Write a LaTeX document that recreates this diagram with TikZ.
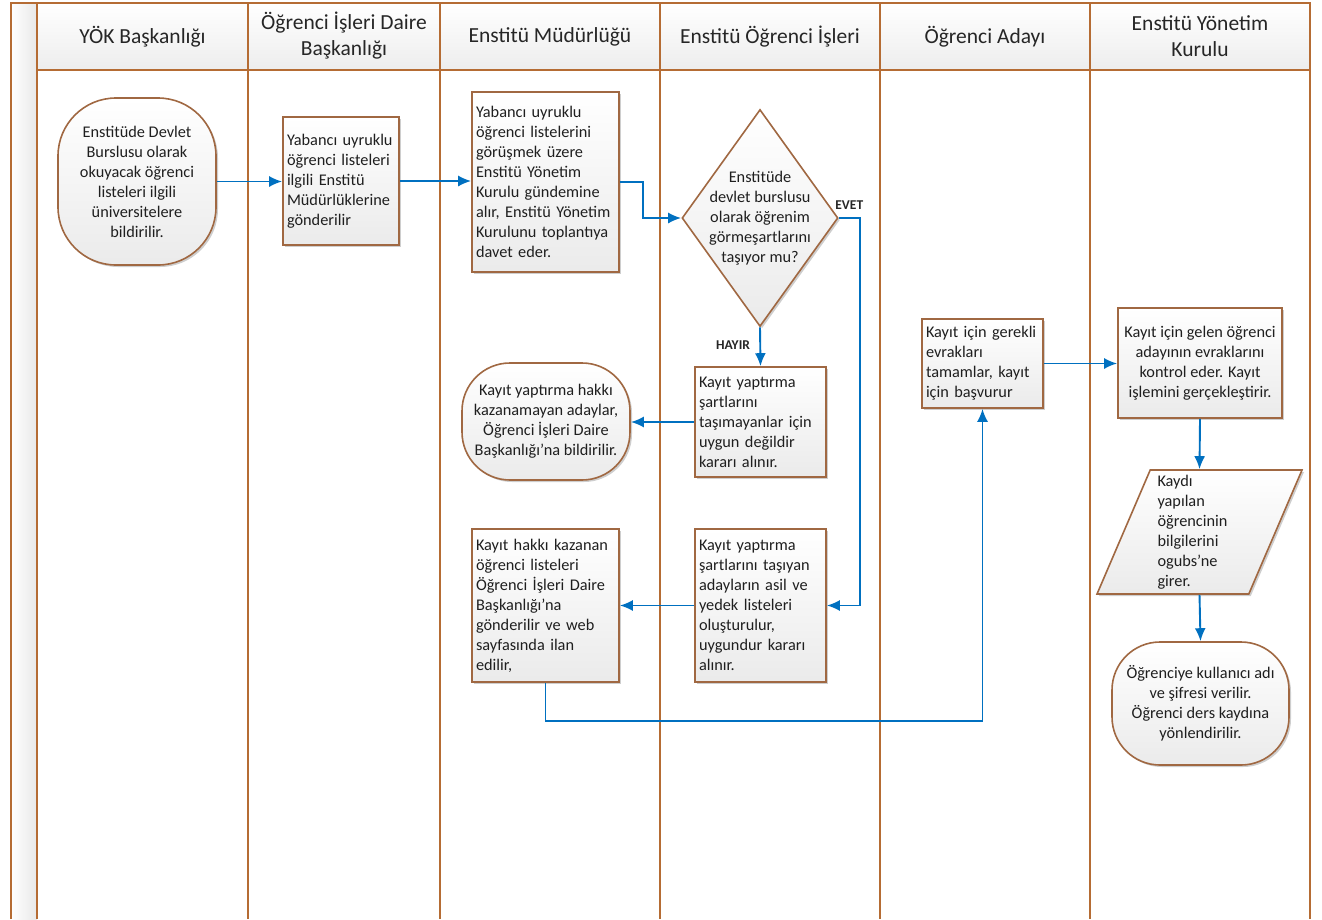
\documentclass[tikz,border=0pt]{standalone}
\usepackage{fontspec}
\setmainfont{Carlito}
\usetikzlibrary{positioning,shapes.geometric,arrows.meta,shadows}
\definecolor{lanebrown}{RGB}{181,108,52}
\definecolor{boxbrown}{RGB}{160,104,66}
\definecolor{flowblue}{RGB}{0,112,192}
\tikzset{
  lane/.style={draw=lanebrown, line width=1.4pt},
  head/.style={align=center, text=black!85, font=\fontsize{21.5}{26}\selectfont},
  boxbase/.style={draw=boxbrown, line width=1.6pt, top color=white, bottom color=gray!16,
    text=black!88, font=\fontsize{16.3}{20}\selectfont, inner xsep=4pt, inner ysep=2pt,
    drop shadow={shadow xshift=2pt, shadow yshift=-2pt, opacity=.35, fill=black!55}},
  procbox/.style={boxbase, rectangle, align=left},
  termbox/.style={boxbase, rectangle, align=center},
  decision/.style={boxbase, diamond, align=center, inner sep=-30pt},
  iobox/.style={boxbase, trapezium, trapezium left angle=65, trapezium right angle=115,
    trapezium stretches body, inner sep=0pt, align=left},
  flow/.style={draw=flowblue, line width=1.9pt, -{Latex[length=13pt,width=11pt]}},
  lbl/.style={text=black!85, font=\fontsize{13.5}{15}\selectfont\bfseries}
}
\begin{document}
\begin{tikzpicture}[x=1pt,y=-1pt]
\useasboundingbox (0,0) rectangle (1322,919);
\shade[left color=white, right color=gray!18] (11,3) rectangle (37,919);
\shade[top color=white, bottom color=gray!14] (37,3) rectangle (1310,70);
\draw[lane] (11,919) -- (11,3) -- (1310,3) -- (1310,919);
\draw[lane] (37,70) -- (1310,70);
\foreach \x in {37,248,440,660,880,1090}
  \draw[lane] (\x,3) -- (\x,919);

\node[head] (hYok) at (142.5,37) {YÖK Başkanlığı};
\node[head] (hOidb) at (344,36) {Öğrenci İşleri Daire\\Başkanlığı};
\node[head] (hEm) at (550,37) {Enstitü Müdürlüğü};
\node[head] (hEoi) at (770,37) {Enstitü Öğrenci İşleri};
\node[head] (hOa) at (985,37) {Öğrenci Adayı};
\node[head] (hEyk) at (1200,36) {Enstitü Yönetim\\Kurulu};

\node[termbox, rounded corners=58pt, minimum width=158pt, minimum height=167pt] (yok) at (137,181.5)
  {Enstitüde Devlet\\Burslusu olarak\\okuyacak öğrenci\\listeleri ilgili\\üniversitelere\\bildirilir.};
\node[procbox, text width=108pt, minimum width=116pt, minimum height=128pt] (oidb) at (341,181)
  {Yabancı uyruklu\\öğrenci listeleri\\ilgili Enstitü\\Müdürlüklerine\\gönderilir};
\node[procbox, text width=139pt, minimum width=147pt, minimum height=180pt] (em1) at (545.5,182)
  {Yabancı uyruklu\\öğrenci listelerini\\görüşmek üzere\\Enstitü Yönetim\\Kurulu gündemine\\alır, Enstitü Yönetim\\Kurulunu toplantıya\\davet eder.};
\node[decision, minimum width=156pt, minimum height=217pt] (dec) at (760,218)
  {Enstitüde\\devlet burslusu\\olarak öğrenim\\görmeşartlarını\\taşıyor mu?};
\node[procbox, text width=123pt, minimum width=131pt, minimum height=110pt] (eoi1) at (760.5,422)
  {Kayıt yaptırma\\şartlarını\\taşımayanlar için\\uygun değildir\\kararı alınır.};
\node[termbox, rounded corners=48pt, minimum width=168pt, minimum height=117pt] (em2) at (546,421.5)
  {Kayıt yaptırma hakkı\\kazanamayan adaylar,\\Öğrenci İşleri Daire\\Başkanlığı’na bildirilir.};
\node[procbox, text width=123pt, minimum width=131pt, minimum height=153pt] (eoi2) at (760.5,605.5)
  {Kayıt yaptırma\\şartlarını taşıyan\\adayların asil ve\\yedek listeleri\\oluşturulur,\\uygundur kararı\\alınır.};
\node[procbox, text width=139pt, minimum width=147pt, minimum height=153pt] (em3) at (545.5,605.5)
  {Kayıt hakkı kazanan\\öğrenci listeleri\\Öğrenci İşleri Daire\\Başkanlığı’na\\gönderilir ve web\\sayfasında ilan\\edilir,};
\node[procbox, text width=113pt, minimum width=121pt, minimum height=89pt] (oa) at (982.5,363.5)
  {Kayıt için gerekli\\evrakları\\tamamlar, kayıt\\için başvurur};
\node[termbox, minimum width=164pt, minimum height=110pt] (eyk1) at (1200,363)
  {Kayıt için gelen öğrenci\\adayının evraklarını\\kontrol eder. Kayıt\\işlemini gerçekleştirir.};
\node[iobox, text width=84pt, minimum width=205pt, minimum height=124pt] (eyk2) at (1199.5,532)
  {Kaydı\\yapılan\\öğrencinin\\bilgilerini\\ogubs’ne\\girer.};
\node[termbox, rounded corners=48pt, minimum width=177pt, minimum height=123pt] (eyk3) at (1200.5,703.5)
  {Öğrenciye kullanıcı adı\\ve şifresi verilir.\\Öğrenci ders kaydına\\yönlendirilir.};

\draw[flow] (yok.east) -- (yok.east -| oidb.west);
\draw[flow] (oidb.east) -- (oidb.east -| em1.west);
\draw[flow] (em1.east) -- ++(23,0) |- (dec.west);
\draw[flow] (dec.east) -- node[lbl, above=4pt]{EVET} ++(21,0) |- (eoi2.east);
\draw[flow] (dec.south) -- node[lbl, left=6pt, pos=0.45]{HAYIR} (eoi1.north);
\draw[flow] (eoi1.west) -- (eoi1.west -| em2.east);
\draw[flow] (eoi2.west) -- (em3.east);
\draw[flow] (em3.south) -- ++(0,38) -| (oa.south);
\draw[flow] (oa.east) -- (oa.east -| eyk1.west);
\draw[flow] (eyk1.south) -- (eyk2.north);
\draw[flow] (eyk2.south) -- (eyk3.north);
\end{tikzpicture}
\end{document}
